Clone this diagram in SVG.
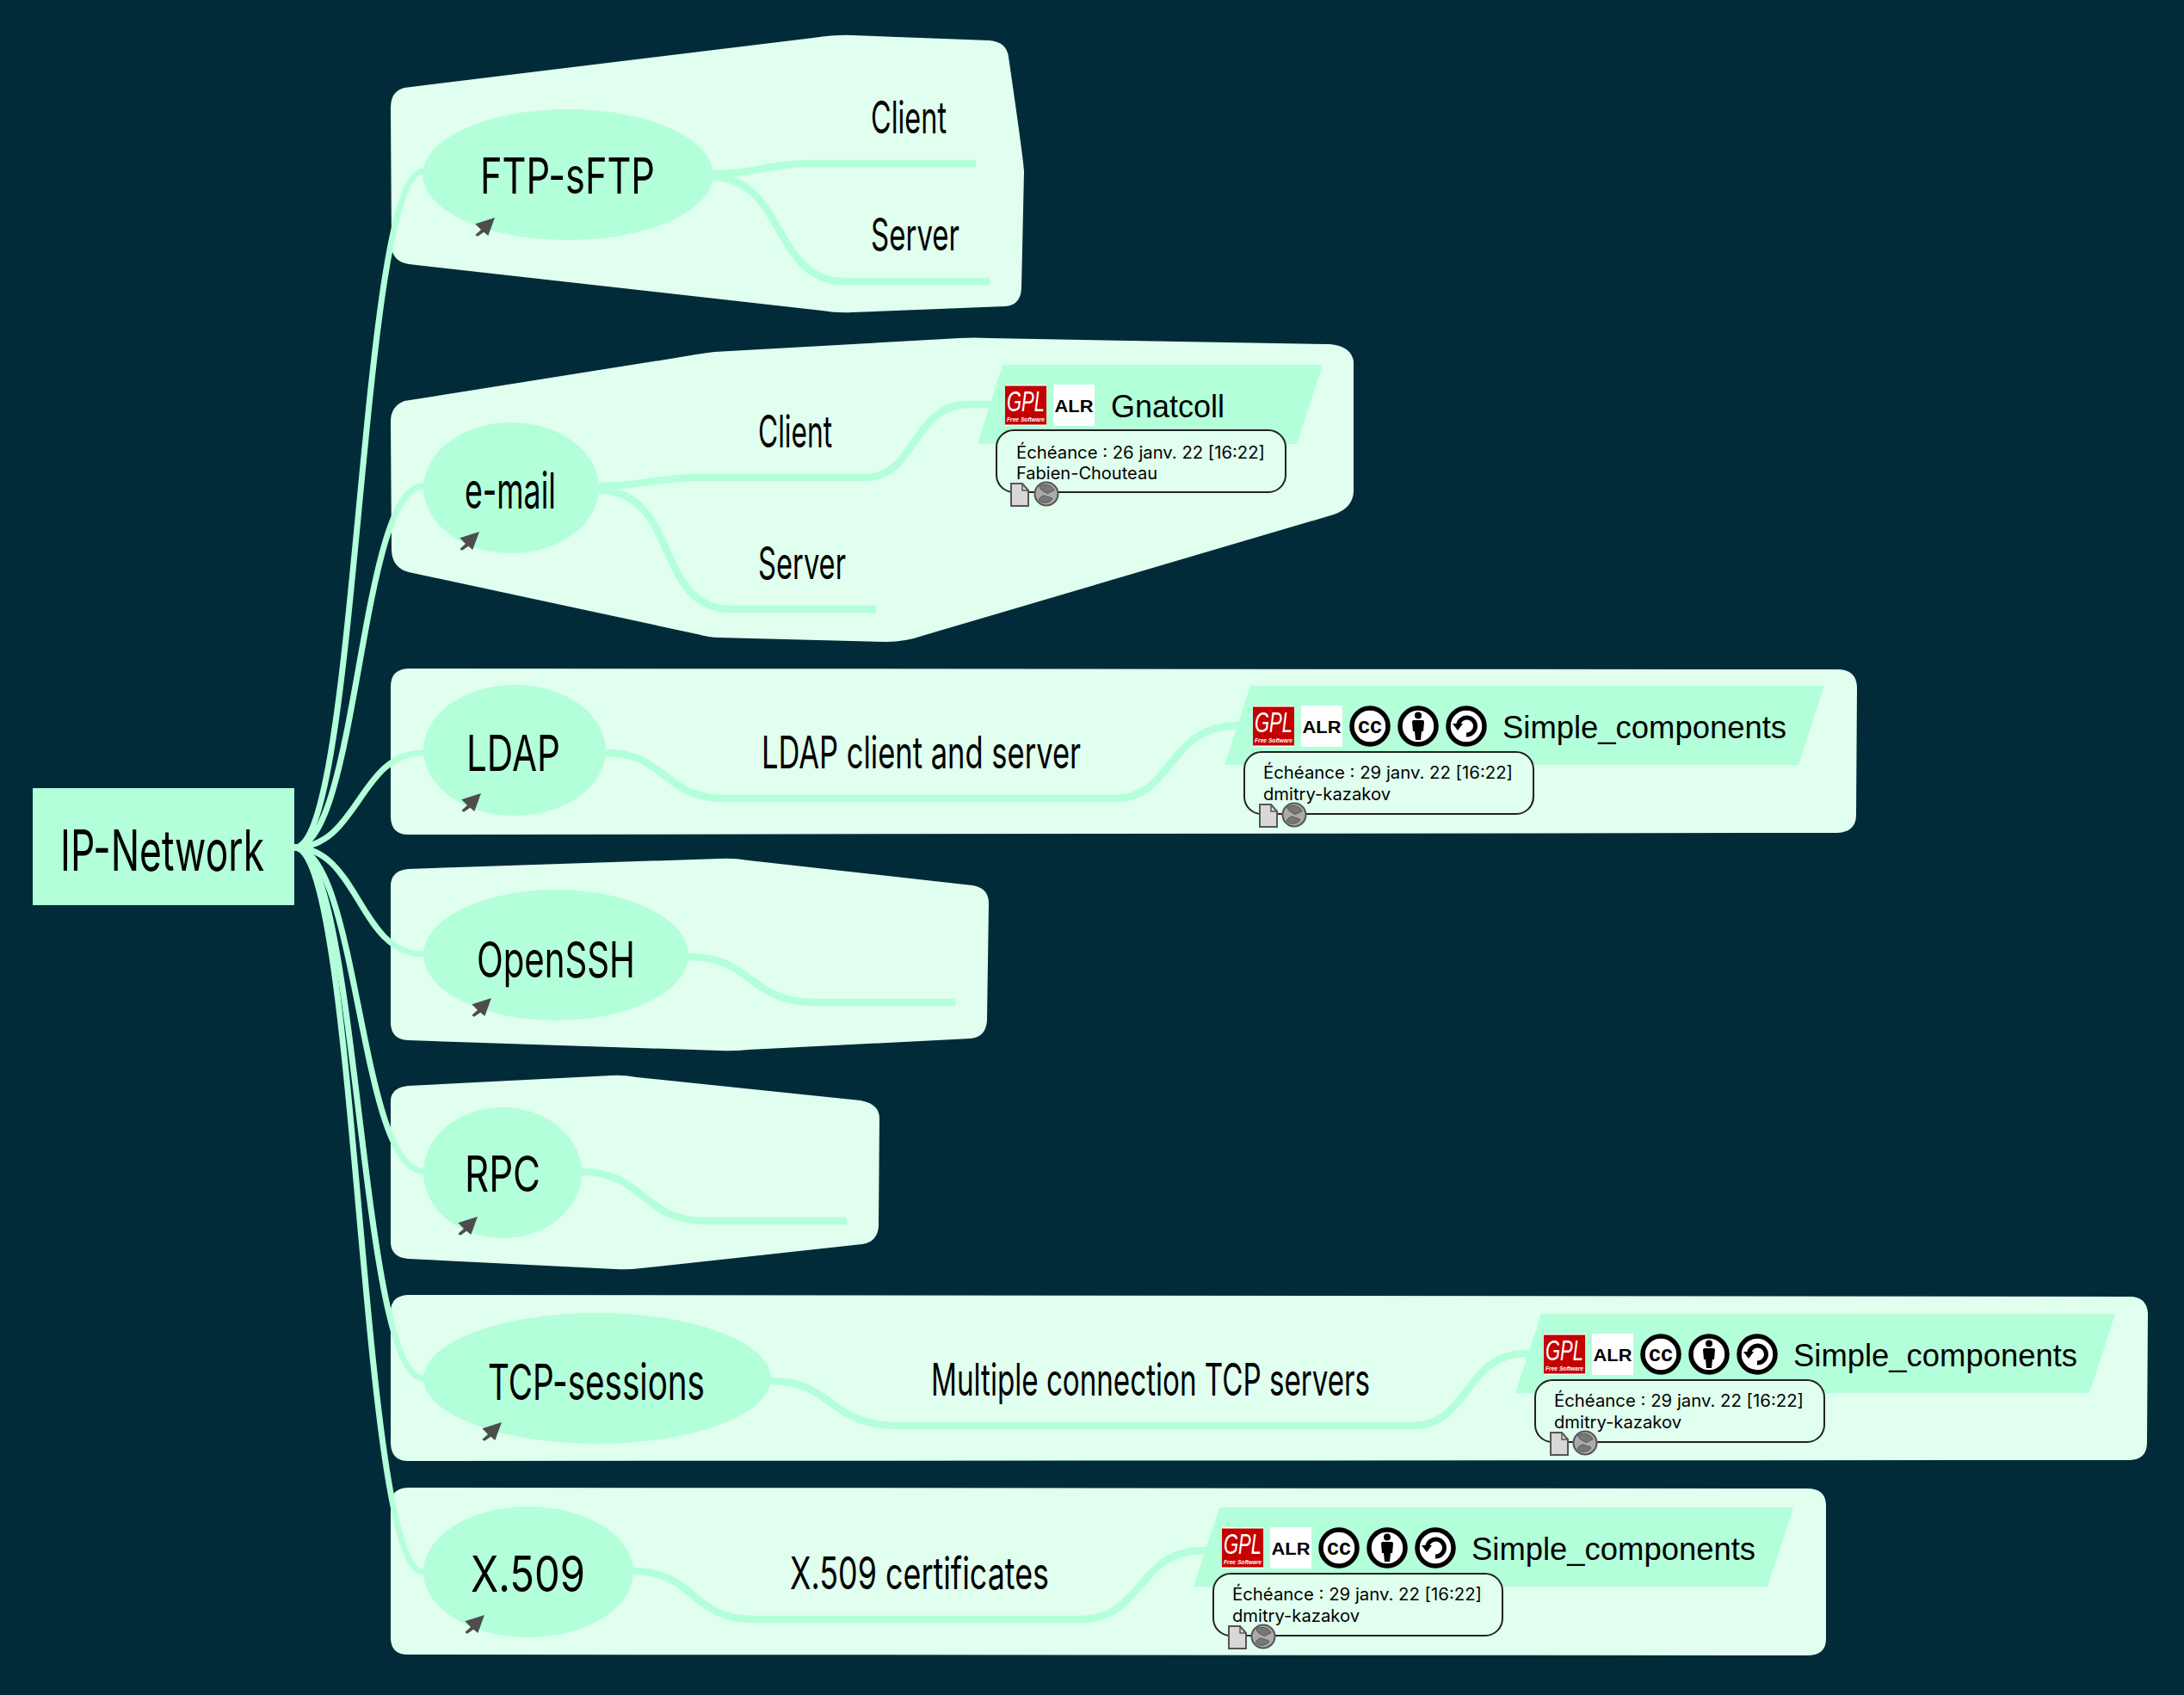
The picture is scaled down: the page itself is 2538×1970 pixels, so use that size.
<svg xmlns="http://www.w3.org/2000/svg" width="2538" height="1970" viewBox="0 0 2538 1970">
<style>
.cloud{fill:#e0ffee}
.mint{fill:#b3ffd9}
.conn{fill:none;stroke:#b3ffd9;stroke-width:7}
.sub{stroke-width:8.500}
.hw{font-family:"Liberation Sans Narrow","Inter","Liberation Sans",sans-serif;font-weight:400;fill:#000}
.big{font-size:58px}
.mid{font-size:52px}
.root{font-size:66px}
.name{font-family:"Liberation Sans",Arial,sans-serif;font-size:36px;fill:#000}
.note{font-family:Inter,"Liberation Sans",sans-serif;font-size:19.5px;fill:#000}
.box{fill:#e0ffee;stroke:#222;stroke-width:2}
.gplT{font-family:"Liberation Sans",sans-serif;font-style:italic;fill:#fff}
.alrT{font-family:"Liberation Sans",sans-serif;font-weight:700;fill:#000}
.ccT{font-family:"Liberation Sans",sans-serif;font-weight:700;fill:#000}
.ring{fill:#fff;stroke:#000;stroke-width:5.500}
</style>
<defs>
<polygon id="arrow" fill="#4d4d4d" points="0,0 -22.7,7.3 -16,14 -22.7,20 -20,21.7 -12.7,16.7 -7.7,21"/>
<g id="gpl"><rect width="48" height="48" fill="#fff"/><rect y="1.5" width="48" height="45" fill="#c40000"/><text class="gplT" x="24" y="31" font-size="34" text-anchor="middle" textLength="44" lengthAdjust="spacingAndGlyphs">GPL</text><text class="gplT" x="24" y="42.500" font-size="7.5" font-weight="700" text-anchor="middle" textLength="44" lengthAdjust="spacingAndGlyphs">Free Software</text></g>
<g id="alr"><rect width="48" height="48" fill="#fff"/><text class="alrT" x="24" y="32" font-size="21" text-anchor="middle" textLength="45" lengthAdjust="spacingAndGlyphs">ALR</text></g>
<g id="cc"><circle cx="24" cy="24" r="21" class="ring"/><text class="ccT" x="24" y="32" font-size="25" text-anchor="middle">cc</text></g>
<g id="by"><circle cx="24" cy="24" r="21" class="ring"/><circle cx="24" cy="11.500" r="4"/><path d="M19,17H29Q31,17 31,19L30,30H28L27,40H21L20,30H18L17,19Q17,17 19,17Z"/></g>
<g id="sa"><circle cx="24" cy="24" r="21" class="ring"/><path d="M14.500,23A10,10 0 1 1 24,34" fill="none" stroke="#000" stroke-width="5"/><polygon points="8,21 20,21 14,29"/></g>
<g id="doc"><path d="M1,1H14L21,9V27H1Z" fill="#d8d8d8" stroke="#555" stroke-width="2"/><path d="M14,1V9H21" fill="none" stroke="#555" stroke-width="1.500"/></g>
<g id="globe"><circle r="13.500" fill="#aaa" stroke="#555" stroke-width="2"/><path d="M-8,-9C-3,-12 7,-11 9,-4C5,-3 3,0 0,-1C-2,-3 -7,-3 -8,-9ZM-9,7C-6,2 -3,1 0,3C3,4 6,4 7,6C3,11 -5,12 -9,7Z" fill="#777" stroke="#555"/></g>
</defs>
<rect width="2538" height="1970" fill="#022b3a"/>
<g id="clouds">
<path class="cloud" d="M454,125Q454,106 470,102L945,44Q973,40 990,41L1150,47Q1170,49 1172,66Q1190,190 1190,200L1187,335Q1186,355 1168,356L990,363Q973,364 955,361L475,307Q457,304 455,288Z"/>
<path class="cloud" d="M454,490Q454,472 470,466L785,416Q813,411 830,409L1115,393Q1132,392 1150,393L1545,400Q1570,402 1573,420L1573,570Q1573,590 1550,598L1075,738Q1052,746 1030,746L835,741Q825,741 810,737L475,665Q456,660 455,640Z"/>
<path class="cloud" d="M454,798Q454,778 474,777L2135,778Q2157,778 2158,798L2157,947Q2157,967 2135,968L474,970Q455,970 454,950Z"/>
<path class="cloud" d="M454,1030Q454,1012 474,1010L835,998Q852,997 870,1000L1130,1029Q1149,1032 1149,1050L1147,1186Q1146,1205 1128,1207L870,1220Q852,1222 835,1221L474,1209Q455,1208 454,1190Z"/>
<path class="cloud" d="M454,1280Q454,1264 474,1262L710,1250Q723,1249 740,1252L1000,1279Q1022,1283 1022,1300L1021,1425Q1020,1443 1002,1446L745,1474Q730,1476 715,1475L474,1463Q455,1461 454,1445Z"/>
<path class="cloud" d="M454,1525Q454,1506 474,1505L2475,1507Q2495,1507 2496,1527L2495,1677Q2495,1696 2475,1697L474,1698Q455,1698 454,1678Z"/>
<path class="cloud" d="M454,1748Q454,1730 474,1729L2100,1730Q2122,1730 2122,1750L2122,1905Q2122,1923 2102,1924L474,1923Q455,1923 454,1905Z"/>
</g>
<g id="connectors">
<path class="conn" d="M342,985C417,985 417,199 492,199"/>
<path class="conn" d="M342,985C417,985 417,565 492,565"/>
<path class="conn" d="M342,985C417,985 417,875 492,875"/>
<path class="conn" d="M342,985C417,985 417,1109 492,1109"/>
<path class="conn" d="M342,985C417,985 417,1361 492,1361"/>
<path class="conn" d="M342,985C417,985 417,1602 492,1602"/>
<path class="conn" d="M342,985C417,985 417,1827 492,1827"/>
<path class="conn sub" d="M829,202C880,202 890,190 945,190L1134,190"/>
<path class="conn sub" d="M829,206C910,206 900,327 980,327L1150,327"/>
<path class="conn sub" d="M696,565C750,565 760,555 813,555L1005,555C1065,555 1060,470 1125,470L1160,470"/>
<path class="conn sub" d="M696,570C790,570 760,708 850,708L1018,708"/>
<path class="conn sub" d="M704,875C775,875 770,928 842,928L1295,928C1365,928 1355,843 1440,843L1460,843"/>
<path class="conn sub" d="M800,1112C875,1112 870,1165 947,1165L1110,1165"/>
<path class="conn sub" d="M675,1362C750,1362 745,1419 820,1419L984,1419"/>
<path class="conn sub" d="M896,1605C970,1605 960,1657 1045,1657L1640,1657C1710,1657 1700,1573 1775,1573L1800,1573"/>
<path class="conn sub" d="M735,1826C810,1826 800,1882 877,1882L1255,1882C1330,1882 1320,1802 1399,1802L1420,1802"/>
</g>
<g id="node-root"><rect class="mint" x="38" y="916" width="304" height="136"/><text class="hw root" x="70" y="1012" textLength="237" lengthAdjust="spacingAndGlyphs">IP-Network</text></g>
<g id="node-ftp"><ellipse class="mint" cx="660" cy="203" rx="169" ry="76"/><text class="hw big" x="558" y="225" textLength="203" lengthAdjust="spacingAndGlyphs">FTP-sFTP</text><use href="#arrow" x="575" y="253"/></g>
<g id="node-ftp-client"><text class="hw mid" x="1012" y="155" textLength="88" lengthAdjust="spacingAndGlyphs">Client</text></g>
<g id="node-ftp-server"><text class="hw mid" x="1012" y="291" textLength="103" lengthAdjust="spacingAndGlyphs">Server</text></g>
<g id="node-email"><ellipse class="mint" cx="594" cy="567" rx="102" ry="76"/><text class="hw big" x="540" y="591" textLength="106" lengthAdjust="spacingAndGlyphs">e-mail</text><use href="#arrow" x="557" y="618"/></g>
<g id="node-email-client"><text class="hw mid" x="881" y="520" textLength="86" lengthAdjust="spacingAndGlyphs">Client</text></g>
<g id="node-email-server"><text class="hw mid" x="881" y="673" textLength="102" lengthAdjust="spacingAndGlyphs">Server</text></g>
<g id="node-gnatcoll">
<polygon class="mint" points="1165,424 1537,424 1507,516 1136,516"/>
<use href="#gpl" x="1168" y="447"/><use href="#alr" x="1224" y="447"/>
<text class="name" x="1291" y="485" textLength="132" lengthAdjust="spacingAndGlyphs">Gnatcoll</text>
<rect class="box" x="1158" y="500" width="336" height="72" rx="20"/>
<text class="note" x="1181" y="533" textLength="289" lengthAdjust="spacingAndGlyphs">Échéance : 26 janv. 22 [16:22]</text>
<text class="note" x="1181" y="557" textLength="164" lengthAdjust="spacingAndGlyphs">Fabien-Chouteau</text>
<use href="#doc" x="1174" y="561"/><use href="#globe" x="1216" y="574"/>
</g>
<g id="node-ldap"><ellipse class="mint" cx="598" cy="872" rx="106" ry="76"/><text class="hw big" x="542" y="896" textLength="109" lengthAdjust="spacingAndGlyphs">LDAP</text><use href="#arrow" x="559" y="922"/></g>
<g id="node-ldap-client"><text class="hw mid" x="885" y="893" textLength="371" lengthAdjust="spacingAndGlyphs">LDAP client and server</text></g>
<g id="node-sc-ldap">
<polygon class="mint" points="1453,797 2120,797 2090,889 1423,889"/>
<use href="#gpl" x="1456" y="820"/><use href="#alr" x="1512" y="820"/><use href="#cc" x="1568" y="820"/><use href="#by" x="1624" y="820"/><use href="#sa" x="1680" y="820"/>
<text class="name" x="1746" y="858" textLength="330" lengthAdjust="spacingAndGlyphs">Simple_components</text>
<rect class="box" x="1446" y="874" width="336" height="72" rx="20"/>
<text class="note" x="1468" y="905" textLength="290" lengthAdjust="spacingAndGlyphs">Échéance : 29 janv. 22 [16:22]</text>
<text class="note" x="1468" y="930" textLength="148" lengthAdjust="spacingAndGlyphs">dmitry-kazakov</text>
<use href="#doc" x="1463" y="934"/><use href="#globe" x="1504" y="947"/>
</g>
<g id="node-openssh"><ellipse class="mint" cx="646" cy="1110" rx="154" ry="76"/><text class="hw big" x="554" y="1136" textLength="184" lengthAdjust="spacingAndGlyphs">OpenSSH</text><use href="#arrow" x="571" y="1160"/></g>
<g id="node-rpc"><ellipse class="mint" cx="584" cy="1363" rx="92" ry="76"/><text class="hw big" x="540" y="1385" textLength="88" lengthAdjust="spacingAndGlyphs">RPC</text><use href="#arrow" x="555" y="1414"/></g>
<g id="node-tcp"><ellipse class="mint" cx="694" cy="1602" rx="202" ry="76"/><text class="hw big" x="567" y="1627" textLength="252" lengthAdjust="spacingAndGlyphs">TCP-sessions</text><use href="#arrow" x="583" y="1653"/></g>
<g id="node-tcp-multi"><text class="hw mid" x="1082" y="1622" textLength="510" lengthAdjust="spacingAndGlyphs">Multiple connection TCP servers</text></g>
<g id="node-sc-tcp" transform="translate(338,730)">
<polygon class="mint" points="1453,797 2120,797 2090,889 1423,889"/>
<use href="#gpl" x="1456" y="820"/><use href="#alr" x="1512" y="820"/><use href="#cc" x="1568" y="820"/><use href="#by" x="1624" y="820"/><use href="#sa" x="1680" y="820"/>
<text class="name" x="1746" y="858" textLength="330" lengthAdjust="spacingAndGlyphs">Simple_components</text>
<rect class="box" x="1446" y="874" width="336" height="72" rx="20"/>
<text class="note" x="1468" y="905" textLength="290" lengthAdjust="spacingAndGlyphs">Échéance : 29 janv. 22 [16:22]</text>
<text class="note" x="1468" y="930" textLength="148" lengthAdjust="spacingAndGlyphs">dmitry-kazakov</text>
<use href="#doc" x="1463" y="934"/><use href="#globe" x="1504" y="947"/>
</g>
<g id="node-x509"><ellipse class="mint" cx="614" cy="1827" rx="122" ry="76"/><text class="hw big" x="547" y="1850" textLength="133" lengthAdjust="spacingAndGlyphs">X.509</text><use href="#arrow" x="563" y="1877"/></g>
<g id="node-x509-cert"><text class="hw mid" x="918" y="1847" textLength="301" lengthAdjust="spacingAndGlyphs">X.509 certificates</text></g>
<g id="node-sc-x509" transform="translate(-36,955)">
<polygon class="mint" points="1453,797 2120,797 2090,889 1423,889"/>
<use href="#gpl" x="1456" y="820"/><use href="#alr" x="1512" y="820"/><use href="#cc" x="1568" y="820"/><use href="#by" x="1624" y="820"/><use href="#sa" x="1680" y="820"/>
<text class="name" x="1746" y="858" textLength="330" lengthAdjust="spacingAndGlyphs">Simple_components</text>
<rect class="box" x="1446" y="874" width="336" height="72" rx="20"/>
<text class="note" x="1468" y="905" textLength="290" lengthAdjust="spacingAndGlyphs">Échéance : 29 janv. 22 [16:22]</text>
<text class="note" x="1468" y="930" textLength="148" lengthAdjust="spacingAndGlyphs">dmitry-kazakov</text>
<use href="#doc" x="1463" y="934"/><use href="#globe" x="1504" y="947"/>
</g>
</svg>
